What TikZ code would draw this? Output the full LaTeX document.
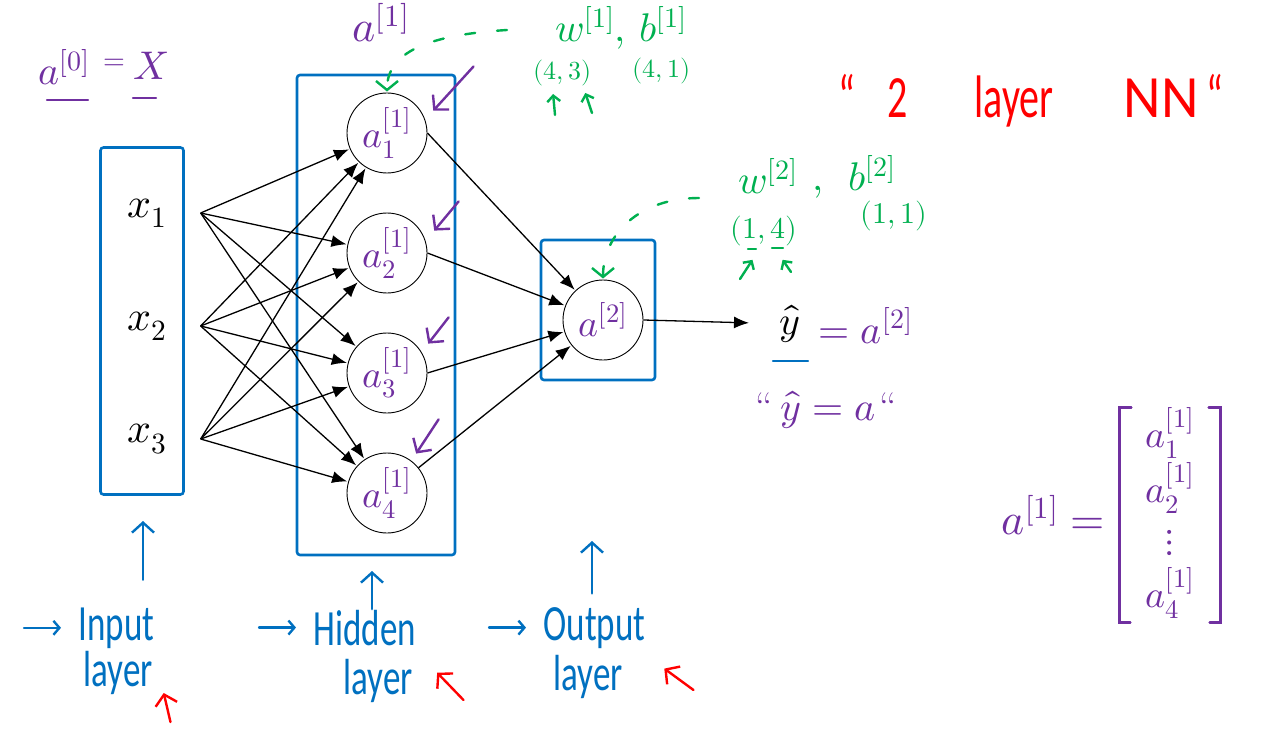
\documentclass[tikz,border=0pt]{standalone}
\usepackage{graphicx}
\usepackage{fontspec}
\usepackage{unicode-math}
\setmathfont{Latin Modern Math}
\newfontfamily\handfont{Carlito}
\usetikzlibrary{arrows.meta,positioning}

\definecolor{inkpurple}{RGB}{112,48,160}
\definecolor{inkblue}{RGB}{0,112,192}
\definecolor{inkgreen}{RGB}{0,176,80}
\definecolor{inkred}{RGB}{255,0,0}

\newcommand{\tall}[1]{\scalebox{1}[1.45]{#1}}

\begin{document}
\begin{tikzpicture}[x=1pt,y=-1pt,->,>={Latex[length=15pt,width=12pt]},shorten >=1pt,
                    node distance=120pt,line width=1.3pt]
  \tikzstyle{inputnode}=[minimum width=106pt,inner sep=0pt,font=\fontsize{42}{46}\selectfont]
  \tikzstyle{neuron}=[circle,draw,line width=0.9pt,minimum size=80pt,inner sep=0pt,
                      text=inkpurple,font=\fontsize{38}{42}\selectfont]
  \tikzstyle{layerbox}=[draw=inkblue,line width=2.6pt,rounded corners=3pt]
  \tikzstyle{inkstroke}=[-,line width=2.4pt,line cap=round]
  \tikzstyle{inkarrow}=[inkstroke,-{Straight Barb[length=10pt,width=22pt]}]
  \tikzstyle{greendash}=[inkstroke,inkgreen,dash pattern=on 10pt off 22pt,
                         -{Straight Barb[length=9pt,width=22pt]}]
  \tikzstyle{mathnote}=[inner sep=0pt,font=\fontsize{40}{44}\selectfont]
  \tikzstyle{dimnote}=[inner sep=0pt,anchor=base west,text=inkgreen,font=\fontsize{26}{30}\selectfont]
  \tikzstyle{layername}=[anchor=base west,inner sep=0pt,text=inkblue,
                         font=\handfont\fontsize{35}{40}\selectfont]

  \useasboundingbox (0,0) rectangle (1266,730);

  % layer boxes
  \node[layerbox,minimum width=83pt,minimum height=347pt]  (inbox)  at (142,321) {};
  \node[layerbox,minimum width=158pt,minimum height=480pt] (hidbox) at (376,315) {};
  \node[layerbox,minimum width=114pt,minimum height=140pt] (outbox) at (598,310) {};

  % network
  \node[inputnode] (x1) at (147,213) {$x_1$};
  \node[inputnode,node distance=113pt,below of=x1] (x2) {$x_2$};
  \node[inputnode,node distance=113pt,below of=x2] (x3) {$x_3$};

  \node[neuron] (a1) at (387,133) {$a^{[1]}_1$};
  \node[neuron] (a2) [below of=a1] {$a^{[1]}_2$};
  \node[neuron] (a3) [below of=a2] {$a^{[1]}_3$};
  \node[neuron] (a4) [below of=a3] {$a^{[1]}_4$};

  \node[neuron] (aout) at (603,320) {$a^{[2]}$};

  \node[mathnote] (yhat) at (790,324) {$\hat{y}$};
  \node[mathnote,anchor=base west,text=inkpurple] (yeq) at (818,343) {$=a^{[2]}$};

  \path (x1.east) edge (a1) edge (a2) edge (a3) edge (a4)
        (x2.east) edge (a1) edge (a2) edge (a3) edge (a4)
        (x3.east) edge (a1) edge (a2) edge (a3) edge (a4)
        (a1.east) edge (aout)
        (a2.east) edge (aout)
        (a3.east) edge (aout)
        (a4)      edge (aout)
        (aout.east) edge [shorten >=30pt] (yhat);

  % purple notes
  \node[mathnote,anchor=base west,text=inkpurple] (a0) at (38,85) {$a^{[0]}$};
  \node[mathnote,anchor=base,text=inkpurple,font=\fontsize{28}{32}\selectfont] (eq0) at (114,70) {$=$};
  \node[mathnote,anchor=base west,text=inkpurple] (xvec) at (133,80) {$X$};
  \draw[inkstroke,inkpurple] ([shift={(9,15)}]a0.base west) -- ++(42,0);
  \draw[inkstroke,inkpurple] ([shift={(0,18)}]xvec.base west) -- ++(24,0);

  \node[mathnote,anchor=base west,text=inkpurple,font=\fontsize{44}{48}\selectfont]
       (atop) at (352,42) {$a^{[1]}$};
  \foreach \i/\tx/\ty/\hx/\hy in {1/58/-38/17/7, 2/43/-23/18/7, 3/33/-27/12/0, 4/23/-45/0/-10}
    \draw[inkarrow,inkpurple] ([shift={(\tx,\ty)}]a\i.north east) -- ([shift={(\hx,\hy)}]a\i.north east);

  \node[mathnote,text=inkpurple] (yquote) at (826,410) {“\hspace{8pt}$\hat{y}=a$\hspace{4pt}“};
  \draw[inkstroke,inkblue] ([shift={(-17,37)}]yhat.center) -- ++(36,0);

  \node[mathnote,text=inkpurple,font=\fontsize{38}{50}\selectfont,
        minimum width=100pt,minimum height=200pt] (avec) at (1170,515)
       {$\begin{array}{c} a^{[1]}_1\\ a^{[1]}_2\\ \vdots\\ a^{[1]}_4\end{array}$};
  \draw[inkstroke,inkpurple] ([xshift=12pt]avec.north west) -- (avec.north west)
       -- (avec.south west) -- ++(12,0);
  \draw[inkstroke,inkpurple] ([xshift=-12pt]avec.north east) -- (avec.north east)
       -- (avec.south east) -- ++(-12,0);
  \node[mathnote,text=inkpurple,font=\fontsize{44}{48}\selectfont,left=14pt of avec] (aeq) {$a^{[1]}=$};

  % green notes
  \node[mathnote,anchor=base west,text=inkgreen] (w1) at (555,42) {$w^{[1]}$};
  \node[mathnote,anchor=base west,text=inkgreen] (b1) at (614,42) {$,\,b^{[1]}$};
  \node[dimnote] (dw1) at (533,80) {$(4,3)$};
  \node[dimnote] (db1) at (632,78) {$(4,1)$};
  \draw[inkarrow,inkgreen,-{Straight Barb[length=6pt,width=13pt]}]
       ([shift={(22,35)}]dw1.base west) -- ([shift={(20,13)}]dw1.base west);
  \draw[inkarrow,inkgreen,-{Straight Barb[length=6pt,width=13pt]}]
       ([shift={(59,33)}]dw1.base west) -- ([shift={(52,12)}]dw1.base west);

  \node[mathnote,anchor=base west,text=inkgreen] (w2) at (738,194) {$w^{[2]}$};
  \node[mathnote,anchor=base west,text=inkgreen] (b2) at (812,191) {$,\;\,b^{[2]}$};
  \node[dimnote,font=\fontsize{30}{34}\selectfont] (dw2) at (730,238) {$(1,4)$};
  \node[dimnote,font=\fontsize{30}{34}\selectfont] (db2) at (860,224) {$(1,1)$};
  \draw[inkstroke,inkgreen] ([shift={(18,11)}]dw2.base west) -- ++(9,0);
  \draw[inkstroke,inkgreen] ([shift={(42,10)}]dw2.base west) -- ++(12,0);
  \draw[inkarrow,inkgreen,-{Straight Barb[length=6pt,width=13pt]}]
       ([shift={(10,41)}]dw2.base west) -- ([shift={(23,21)}]dw2.base west);
  \draw[inkarrow,inkgreen,-{Straight Barb[length=6pt,width=13pt]}]
       ([shift={(61,34)}]dw2.base west) -- ([shift={(52,21)}]dw2.base west);

  \coordinate (w1tail) at (507,30);
  \coordinate (w2tail) at (699,198);
  \draw[greendash] (w1tail) .. controls +(-80,5) and +(0,-40) .. (a1.north);
  \draw[greendash] (w2tail) .. controls +(-60,0) and +(0,-45) .. (aout.north);

  % red title
  \node[anchor=base west,inner sep=0pt,text=inkred,font=\handfont\fontsize{40}{44}\selectfont]
       (title) at (838,118)
       {\scalebox{1}[1.5]{“\hspace{32pt}2\hspace{67pt}layer\hspace{70pt}\scalebox{1.45}[1]{NN}\hspace{8pt}“}};

  % layer names
  \node[layername] (inp)      at (78,640)  {\tall{Input}};
  \node[layername] (inplayer) at (83,686)  {\tall{layer}};
  \node[layername] (hid)      at (313,645) {\tall{Hidden}};
  \node[layername] (hidlayer) at (343,694) {\tall{layer}};
  \node[layername] (outp)     at (543,640) {\tall{Output}};
  \node[layername] (outlayer) at (553,690) {\tall{layer}};

  \coordinate (inhead)  at (143,520);
  \coordinate (hidhead) at (372,570);
  \coordinate (outhead) at (592,540);
  \draw[inkarrow,inkblue,shorten <=27pt] (inp.north -| inhead) -- (inhead);
  \draw[inkarrow,inkblue] (hid.north -| hidhead) -- (hidhead);
  \draw[inkarrow,inkblue,shorten <=13pt] (outp.north -| outhead) -- (outhead);

  \foreach \n in {inp,hid,outp}
    \draw[inkarrow,inkblue,-{Straight Barb[length=6pt,width=14pt]}]
         ([xshift=-54pt]\n.west) -- ([xshift=-16pt]\n.west);

  \draw[inkarrow,inkred] ([shift={(17,36)}]inplayer.base east) -- ([shift={(10,6)}]inplayer.base east);
  \draw[inkarrow,inkred] ([shift={(50,6)}]hidlayer.base east) -- ([shift={(23,-22)}]hidlayer.base east);
  \draw[inkarrow,inkred] ([shift={(70,0)}]outlayer.base east) -- ([shift={(40,-22)}]outlayer.base east);
\end{tikzpicture}
\end{document}
